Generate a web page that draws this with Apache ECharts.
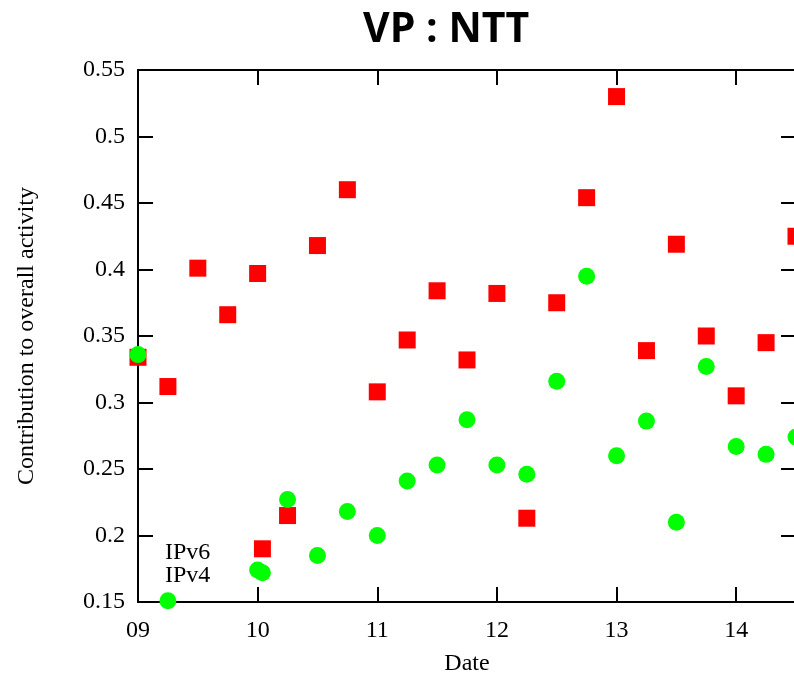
<!DOCTYPE html>
<html>
<head>
<meta charset="utf-8">
<title>VP : NTT</title>
<script src="https://cdn.jsdelivr.net/npm/echarts@6/dist/echarts.min.js"></script>
<style>
  html, body { margin: 0; padding: 0; background: #fff; }
  #chart { width: 794px; height: 675px; }
</style>
</head>
<body>
<div id="chart"></div>
<script>
// sample times, in days (every 6 hours, plus one extra at 10 + 1h)
const ipv6Days = [9.0, 9.25, 9.5, 9.75, 10.0, 10.04, 10.25, 10.5, 10.75, 11.0, 11.25, 11.5,
  11.75, 12.0, 12.25, 12.5, 12.75, 13.0, 13.25, 13.5, 13.75, 14.0, 14.25, 14.5]
const ipv6Values = [0.334, 0.312, 0.401, 0.366, 0.397, 0.190, 0.215, 0.418, 0.460, 0.308, 0.347, 0.384,
  0.332, 0.382, 0.213, 0.375, 0.454, 0.530, 0.339, 0.419, 0.350, 0.305, 0.345, 0.425]

const ipv4Days = [9.0, 9.25, 10.0, 10.04, 10.25, 10.5, 10.75, 11.0, 11.25, 11.5, 11.75,
  12.0, 12.25, 12.5, 12.75, 13.0, 13.25, 13.5, 13.75, 14.0, 14.25, 14.5]
const ipv4Values = [0.336, 0.151, 0.174, 0.172, 0.227, 0.185, 0.218, 0.200, 0.241, 0.253, 0.287,
  0.253, 0.246, 0.316, 0.395, 0.260, 0.286, 0.210, 0.327, 0.267, 0.261, 0.274]

const pair = (xs, ys) => xs.map((x, i) => [x, ys[i]])

const serif = 'Liberation Serif'
const axisLine = { show: true, lineStyle: { color: '#000', width: 2 } }
const inTick = { show: true, inside: true, length: 15, lineStyle: { color: '#000', width: 2 } }

const chart = echarts.init(document.getElementById('chart'), null, { renderer: 'canvas' })

chart.setOption({
  animation: false,
  backgroundColor: '#fff',
  title: {
    text: 'VP : NTT',
    left: 358,
    top: 5,
    textStyle: { fontFamily: 'Open Sans', fontWeight: 'bold', fontSize: 41, color: '#000' }
  },
  legend: {
    orient: 'vertical',
    left: 160,
    top: 536,
    itemGap: -1,
    itemWidth: 0,
    itemHeight: 0,
    selectedMode: false,
    data: [{ name: 'IPv6', icon: 'none' }, { name: 'IPv4', icon: 'none' }],
    textStyle: { fontFamily: serif, fontSize: 24, color: '#000', padding: [0, 0, 0, -5] }
  },
  // keep the plot box fixed, labels may sit close to the edges
  grid: { left: 138, right: -2, top: 70, bottom: 73, outerBoundsMode: 'none' },
  xAxis: [{
    type: 'value',
    min: 9,
    max: 14.5,
    interval: 1,
    name: 'Date',
    nameLocation: 'middle',
    nameGap: 50,
    nameTextStyle: { fontFamily: serif, fontSize: 24, color: '#000' },
    axisLine: axisLine,
    axisTick: inTick,
    splitLine: { show: false },
    axisLabel: {
      fontFamily: serif, fontSize: 24, color: '#000', margin: 17,
      showMaxLabel: false,
      formatter: v => (Number.isInteger(v) ? (v < 10 ? '0' + v : String(v)) : '')
    }
  }, {
    type: 'value',
    position: 'top',
    min: 9,
    max: 14.5,
    interval: 1,
    axisLine: axisLine,
    axisTick: inTick,
    axisLabel: { show: false },
    splitLine: { show: false }
  }],
  yAxis: [{
    type: 'value',
    min: 0.15,
    max: 0.55,
    interval: 0.05,
    name: 'Contribution to overall activity',
    nameLocation: 'middle',
    nameGap: 99,
    nameTextStyle: { fontFamily: serif, fontSize: 24, color: '#000' },
    axisLine: axisLine,
    axisTick: inTick,
    splitLine: { show: false },
    axisLabel: {
      fontFamily: serif, fontSize: 24, color: '#000', margin: 13,
      formatter: v => String(Math.round(v * 100) / 100)
    }
  }, {
    type: 'value',
    position: 'right',
    min: 0.15,
    max: 0.55,
    interval: 0.05,
    axisLine: axisLine,
    axisTick: inTick,
    axisLabel: { show: false },
    splitLine: { show: false }
  }],
  series: [
    {
      name: 'IPv6',
      type: 'scatter',
      symbol: 'rect',
      symbolSize: 17,
      itemStyle: { color: '#ff0000', opacity: 1 },
      data: pair(ipv6Days, ipv6Values)
    },
    {
      name: 'IPv4',
      type: 'scatter',
      symbol: 'circle',
      symbolSize: 17,
      itemStyle: { color: '#00ff00', opacity: 1 },
      data: pair(ipv4Days, ipv4Values)
    }
  ]
})
</script>
</body>
</html>
